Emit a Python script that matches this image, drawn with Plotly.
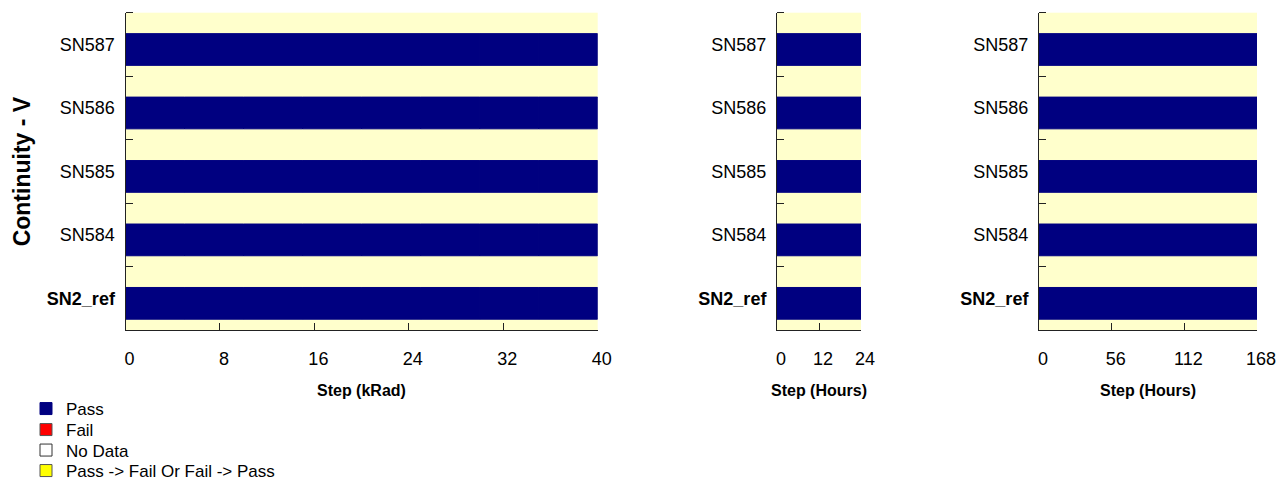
import plotly.graph_objects as go

# ---------------- data ----------------
devices = ["SN2_ref", "SN584", "SN585", "SN586", "SN587"]
device_labels = ["<b>SN2_ref</b>", "SN584", "SN585", "SN586", "SN587"]

tid_steps = [0, 5, 10, 15, 20, 25, 30, 35, 40]          # kRad
anneal24_steps = [0, 24]                                # hours
anneal168_steps = [0, 168]                              # hours

tid_ticks = [0, 8, 16, 24, 32, 40]
anneal24_ticks = [0, 12, 24]
anneal168_ticks = [0, 56, 112, 168]

# status of every device in every step segment (all pass)
tid_status = {d: ["Pass"] * (len(tid_steps) - 1) for d in devices}
anneal24_status = {d: ["Pass"] * (len(anneal24_steps) - 1) for d in devices}
anneal168_status = {d: ["Pass"] * (len(anneal168_steps) - 1) for d in devices}

status_names = ["Pass", "Fail", "No Data", "Pass -> Fail Or Fail -> Pass"]
status_colors = {"Pass": "#000080", "Fail": "#FF0000", "No Data": "#FFFFFF",
                 "Pass -> Fail Or Fail -> Pass": "#FFFF00"}
status_lines = {"Pass": "#000080", "Fail": "#555555", "No Data": "#333333",
                "Pass -> Fail Or Fail -> Pass": "#555555"}

panels = [
    (tid_steps, tid_status, tid_ticks, "Step (kRad)"),
    (anneal24_steps, anneal24_status, anneal24_ticks, "Step (Hours)"),
    (anneal168_steps, anneal168_status, anneal168_ticks, "Step (Hours)"),
]

# ---------------- layout geometry (pixels) ----------------
W, H = 1279, 485
px_x = [(125.5, 597.7), (777, 861), (1039, 1257)]
top_px, bot_px = 12.7, 330.0
legend_rows_px = [409, 430, 450.5, 471]

def fx(p):
    return p / W

def fy(p):
    return 1 - p / H

BG = "#FFFFCC"
FONT = "Liberation Sans, Arial, sans-serif"

fig = go.Figure()
layout = dict(
    width=W, height=H, margin=dict(l=0, r=0, t=0, b=0, autoexpand=False),
    paper_bgcolor="white", plot_bgcolor=BG,
    font=dict(family=FONT, color="black", size=16),
    barmode="overlay", showlegend=True,
)
legend_ids = []
for li, s in enumerate(status_names):
    lid = "legend" if li == 0 else f"legend{li + 1}"
    legend_ids.append(lid)
    layout[lid] = dict(x=fx(26), y=fy(legend_rows_px[li]), xanchor="left", yanchor="middle",
                       font=dict(size=17, family=FONT), bgcolor="rgba(0,0,0,0)",
                       borderwidth=0, itemclick=False, itemdoubleclick=False)

annotations = []
n = len(panels)
for i, (steps, status, ticks, xtitle) in enumerate(panels):
    k = i + 1
    xa, ya = ("x" if k == 1 else f"x{k}"), ("y" if k == 1 else f"y{k}")
    for si, s in enumerate(status_names):
        ys, xs, bs = [], [], []
        for di, d in enumerate(devices):
            for j, st in enumerate(status[d]):
                if st == s:
                    ys.append(di)
                    bs.append(steps[j])
                    xs.append(steps[j + 1] - steps[j])
        fig.add_trace(go.Bar(
            x=xs if xs else [None], y=ys if ys else [None], base=bs if bs else None,
            orientation="h", width=0.5, offset=-0.33,
            marker=dict(color=status_colors[s], line=dict(color=status_lines[s], width=1)),
            name=s, legendgroup=s, showlegend=(i == 0), legend=legend_ids[si],
            xaxis=xa, yaxis=ya, hoverinfo="skip"))
    dom_x = [fx(px_x[i][0]), fx(px_x[i][1])]
    dom_y = [fy(bot_px), fy(top_px)]
    rng = [steps[0], steps[-1]]
    axis_common = dict(showgrid=False, zeroline=False, showline=True, automargin=False,
                       linecolor="#222222", linewidth=1, tickcolor="#222222",
                       ticklen=7, tickwidth=1)
    layout[f"xaxis{k if k > 1 else ''}"] = dict(
        domain=dom_x, range=rng, anchor=ya, side="bottom",
        tickmode="array", tickvals=ticks, ticks="inside",
        tickfont=dict(size=18, family=FONT), ticklabelstandoff=12,
        ticklabelshift=4, **axis_common)
    layout[f"xaxis{k + n}"] = dict(
        domain=dom_x, range=rng, anchor=ya, overlaying=xa, side="top",
        tickmode="array", tickvals=ticks, ticks="outside",
        showticklabels=False, **axis_common)
    layout[f"yaxis{k if k > 1 else ''}"] = dict(
        domain=dom_y, range=[-0.5, len(devices) - 0.5], anchor=xa, side="left",
        tickmode="array", tickvals=list(range(len(devices))), ticktext=device_labels,
        ticks="", tickfont=dict(size=18, family=FONT), ticklabelstandoff=6,
        minor=dict(tickmode="array", tickvals=[v + 0.5 for v in range(-1, len(devices))],
                   ticks="inside", ticklen=7, tickcolor="#222222", showgrid=False),
        **axis_common)
    layout[f"yaxis{k + n}"] = dict(
        domain=dom_y, range=[-0.5, len(devices) - 0.5], anchor=xa, overlaying=ya,
        side="right", tickmode="array",
        tickvals=[v + 0.5 for v in range(-1, len(devices))], ticks="outside",
        showticklabels=False, **axis_common)
    annotations.append(dict(
        text=f"<b>{xtitle}</b>", x=(dom_x[0] + dom_x[1]) / 2, y=fy(390),
        xref="paper", yref="paper", showarrow=False, xanchor="center", yanchor="middle",
        font=dict(size=16, family=FONT)))

annotations.append(dict(
    text="<b>Continuity - V</b>", x=fx(22), y=(fy(bot_px) + fy(top_px)) / 2,
    xref="paper", yref="paper", showarrow=False, textangle=-90,
    xanchor="center", yanchor="middle", font=dict(size=23, family=FONT)))
layout["annotations"] = annotations
fig.update_layout(**layout)
fig.write_html("out.html", config={"displayModeBar": False},
               post_script="document.body.style.margin='0';document.body.style.overflow='hidden';")
